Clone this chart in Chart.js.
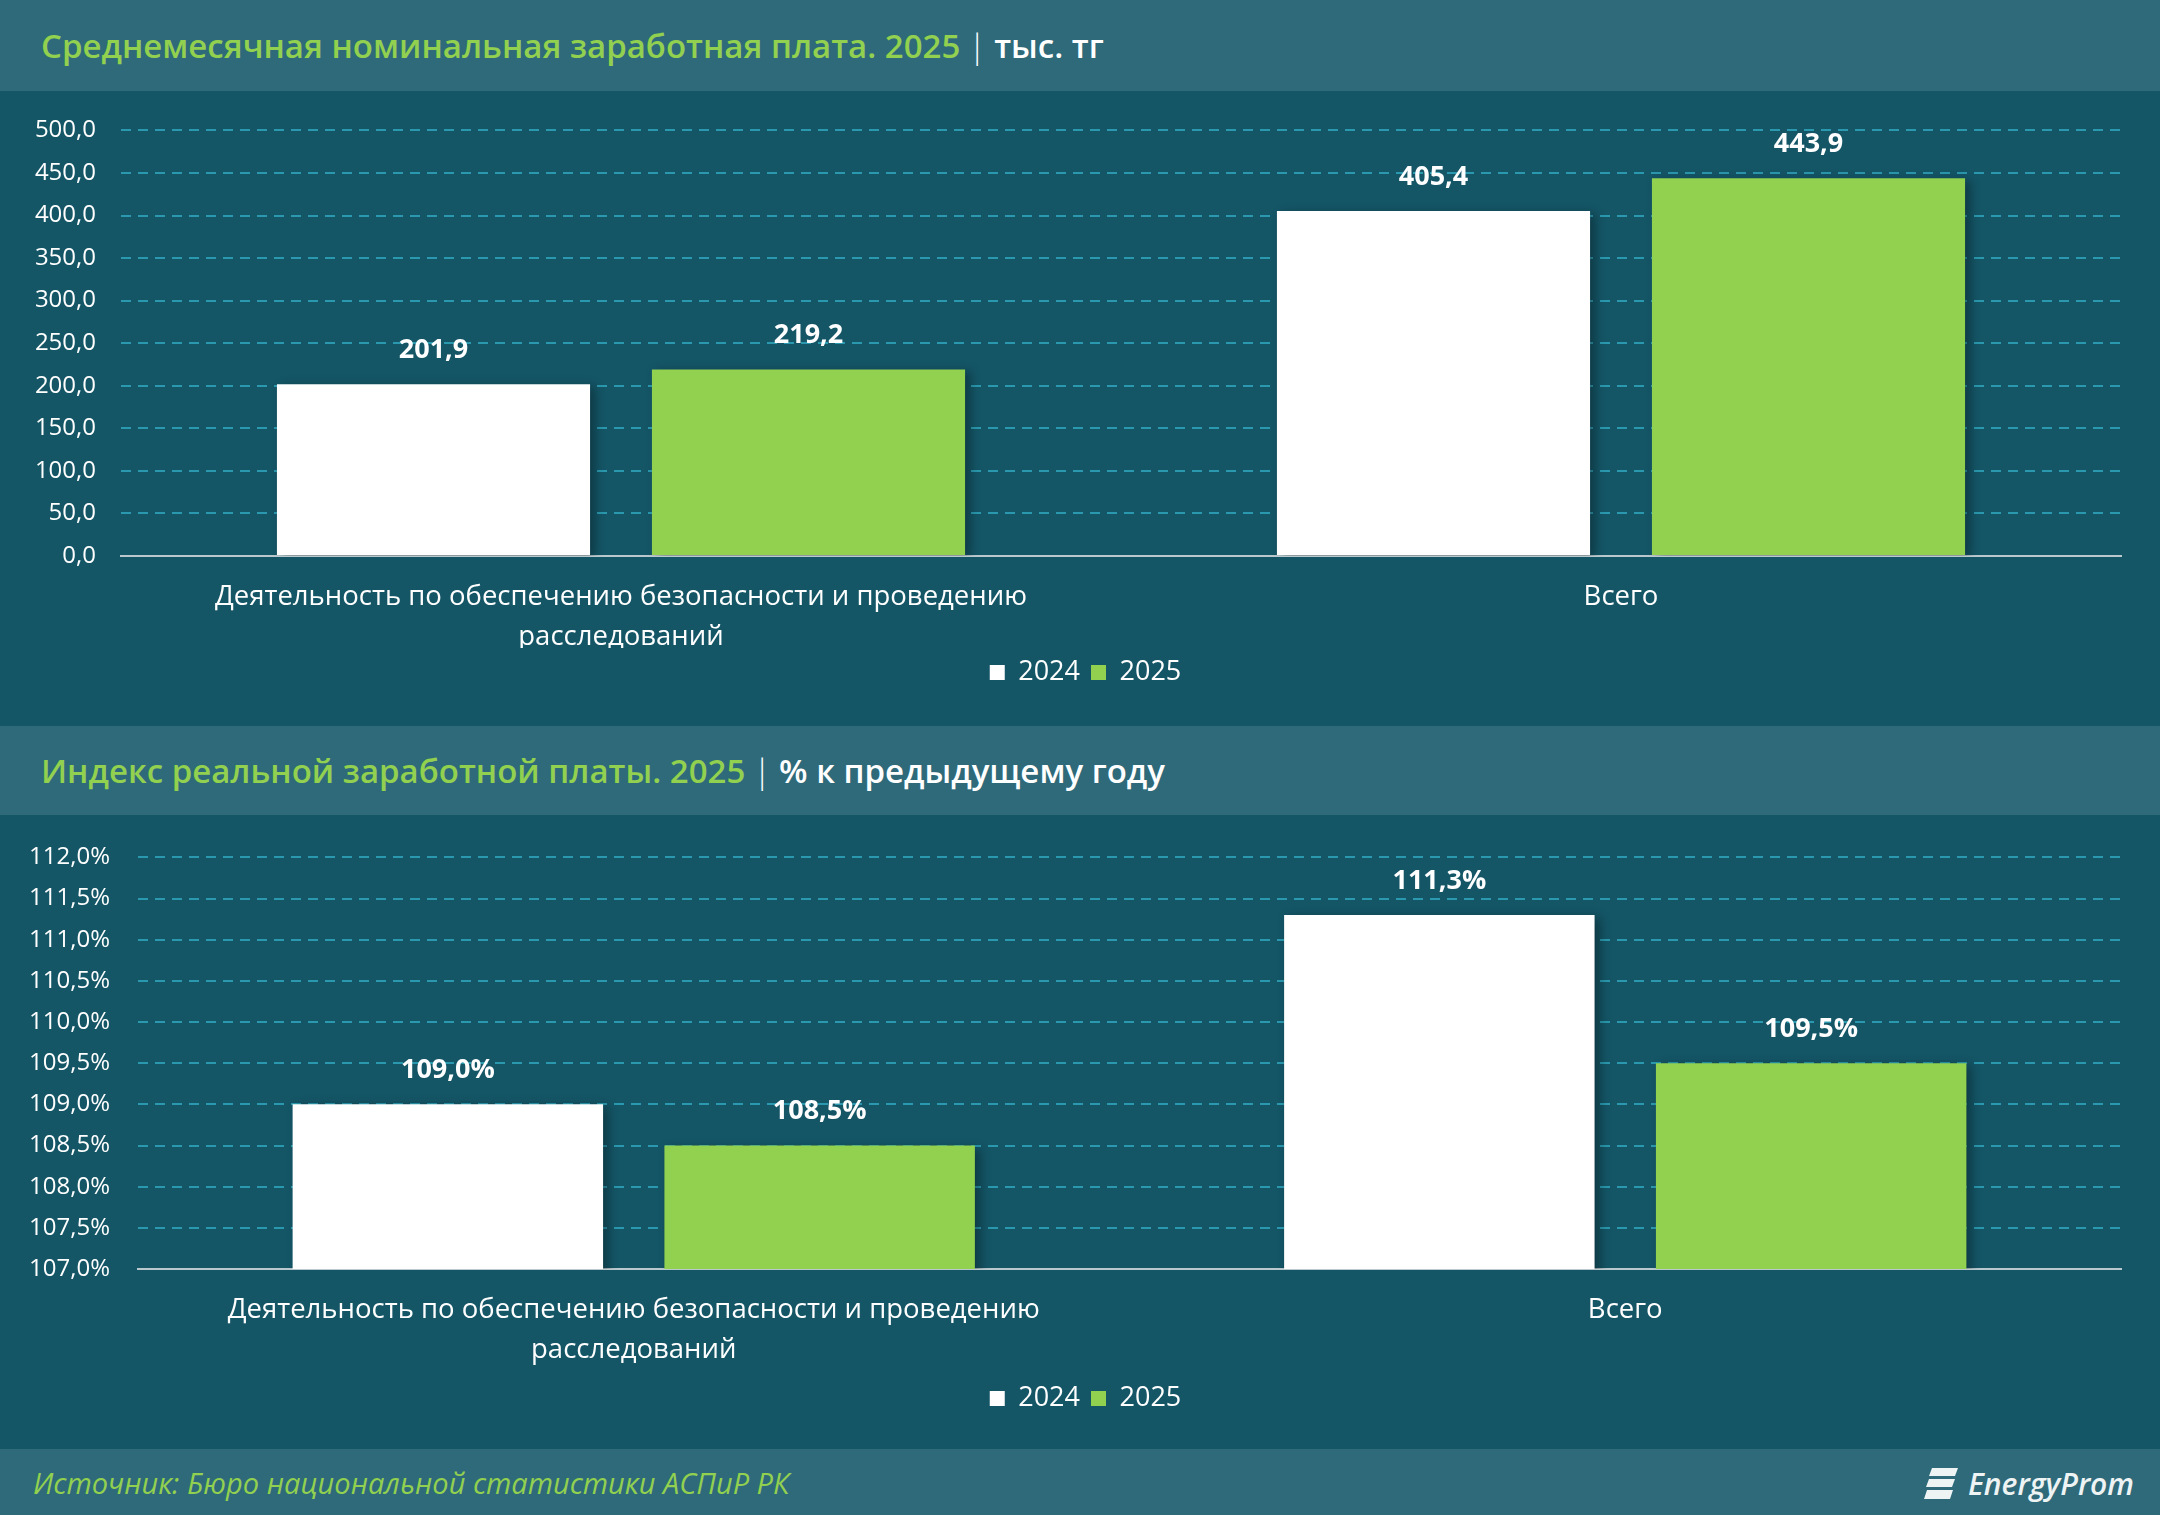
<!DOCTYPE html>
<html>
<head>
<meta charset="utf-8">
<script src="https://cdn.jsdelivr.net/npm/chart.js@4.4.1/dist/chart.umd.min.js"></script>
<style>
  body { margin: 0; width: 2160px; height: 1515px; background: #145566; font-family: "Open Sans", sans-serif; overflow: hidden; position: relative; }
  .band { position: absolute; left: 0; width: 2160px; background: #2e6a7a; display: flex; align-items: center; box-sizing: border-box; padding-left: 41px; }
  .title { font-size: 33px; font-weight: 600; color: #92d050; white-space: nowrap; }
  .title .unit { color: #fff; }
  .title .sep { color: #fff; font-weight: 300; margin: 0 8px; }
  .box { position: absolute; left: 0; width: 2160px; }
  .source { font-size: 29px; font-style: italic; color: #92d050; }
  .logo { position: absolute; right: 26px; top: 14px; display: flex; align-items: center; color: #eef3f4; font-style: italic; font-weight: 600; font-size: 30px; }
  .logo svg { margin-right: 8px; }
</style>
</head>
<body>

<div class="band" style="top:0;height:91px;">
  <div class="title">Среднемесячная номинальная заработная плата. 2025<span class="sep">|</span><span class="unit">тыс. тг</span></div>
</div>
<div class="box" style="top:91px;height:632px;"><canvas id="wageChart"></canvas></div>

<div class="band" style="top:726px;height:89px;">
  <div class="title">Индекс реальной заработной платы. 2025<span class="sep">|</span><span class="unit">% к предыдущему году</span></div>
</div>
<div class="box" style="top:815px;height:634px;"><canvas id="indexChart"></canvas></div>

<div class="band" style="top:1449px;height:66px;padding-left:33px;">
  <div class="source">Источник: Бюро национальной статистики АСПиР РК</div>
  <div class="logo">
    <svg width="36" height="36" viewBox="0 0 36 36">
      <path d="M8 2 H34 L31 10 H5 Z" fill="#eef3f4"/>
      <path d="M5 13 H31 L28 21 H2 Z" fill="#eef3f4"/>
      <path d="M3 24 H29 L26 33 H0 Z" fill="#eef3f4"/>
    </svg>
    EnergyProm
  </div>
</div>

<script>
const categories = [['Деятельность по обеспечению безопасности и проведению', 'расследований'], 'Всего'];
const seriesNames = ['2024', '2025'];
const wage2024 = [201.9, 405.4];
const wage2025 = [219.2, 443.9];
const index2024 = [109.0, 111.3];
const index2025 = [108.5, 109.5];
const wageTicks = { min: 0, max: 500, step: 50 };
const indexTicks = { min: 107, max: 112, step: 0.5 };

const WHITE = '#ffffff';
const GREEN = '#92d050';

const fmt = v => v.toFixed(1).replace('.', ',');
const fmtPct = v => fmt(v) + '%';

// soft shadow behind the bars, like the Excel original
const barShadow = {
  id: 'barShadow',
  beforeDatasetsDraw(chart) {
    const ctx = chart.ctx;
    ctx.save();
    ctx.shadowColor = 'rgba(0,0,0,0.35)';
    ctx.shadowBlur = 10;
    ctx.shadowOffsetX = 5;
    ctx.shadowOffsetY = 3;
  },
  afterDatasetsDraw(chart) {
    chart.ctx.restore();
  }
};

// value above each bar
const valueLabels = {
  id: 'valueLabels',
  afterDatasetsDraw(chart, args, opts) {
    const ctx = chart.ctx;
    ctx.save();
    ctx.font = 'bold 27px "Open Sans"';
    ctx.fillStyle = '#ffffff';
    ctx.textAlign = 'center';
    ctx.textBaseline = 'middle';
    chart.data.datasets.forEach((ds, i) => {
      chart.getDatasetMeta(i).data.forEach((bar, j) => {
        ctx.fillText(opts.format(ds.data[j]), bar.x, bar.y - opts.offset);
      });
    });
    ctx.restore();
  }
};

// the original legend sits a bit right of the canvas centre
const legendShift = {
  id: 'legendShift',
  afterLayout(chart, args, opts) {
    chart.legend.left += opts.dx;
    chart.legend.right += opts.dx;
  }
};

function makeChart(id, height, a, b, ticks, format, layout) {
  const canvas = document.getElementById(id);
  canvas.width = 2160;
  canvas.height = height;
  return new Chart(canvas, {
    type: 'bar',
    data: {
      labels: categories,
      datasets: [
        { label: seriesNames[0], data: a, backgroundColor: WHITE, borderWidth: 0 },
        { label: seriesNames[1], data: b, backgroundColor: GREEN, borderWidth: 0 }
      ]
    },
    options: {
      responsive: false,
      animation: false,
      events: [],
      categoryPercentage: 0.75,
      barPercentage: 0.835,
      layout: { padding: { top: layout.top, right: 39, bottom: 27, left: 0 } },
      scales: {
        x: {
          grid: { display: false, drawTicks: false },
          border: { display: true, color: '#b9c9ce', width: 2 },
          ticks: { color: '#ffffff', font: { family: 'Open Sans', size: 27.5, lineHeight: 1.45 }, padding: 21, maxRotation: 0, autoSkip: false },
          afterFit: s => { s.height = layout.xHeight; }
        },
        y: {
          min: ticks.min,
          max: ticks.max,
          grid: { color: '#2a98ae', lineWidth: 2, drawTicks: false },
          border: { display: false, dash: [10, 7] },
          ticks: { stepSize: ticks.step, color: '#ffffff', font: { family: 'Open Sans', size: 24 }, padding: layout.tickPad, callback: v => format(v) },
          afterFit: s => { s.width = layout.left; }
        }
      },
      plugins: {
        legend: {
          position: 'bottom',
          labels: { color: '#ffffff', font: { family: 'Open Sans', size: 27 }, boxWidth: 15, boxHeight: 15, padding: 11 }
        },
        tooltip: { enabled: false },
        valueLabels: { format: format, offset: 34 },
        legendShift: { dx: 25 }
      }
    },
    plugins: [barShadow, valueLabels, legendShift]
  });
}

makeChart('wageChart', 632, wage2024, wage2025, wageTicks, fmt,
  { top: 38, left: 121, tickPad: 25, xHeight: 92 });
makeChart('indexChart', 634, index2024, index2025, indexTicks, fmtPct,
  { top: 40, left: 138, tickPad: 28, xHeight: 105 });
</script>
</body>
</html>
